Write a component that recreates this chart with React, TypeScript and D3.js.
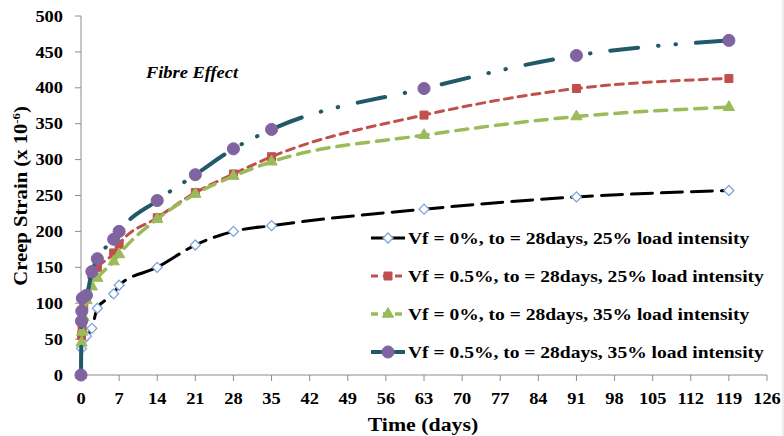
import React from "react";
import * as d3 from "d3";

const xTicks = [0, 7, 14, 21, 28, 35, 42, 49, 56, 63, 70, 77, 84, 91, 98, 105, 112, 119, 126];
const yTicks = [0, 50, 100, 150, 200, 250, 300, 350, 400, 450, 500];

const seriesNames = [
  "Vf = 0%, to = 28days, 25% load intensity",
  "Vf = 0.5%, to = 28days, 25% load intensity",
  "Vf = 0%, to = 28days, 35% load intensity",
  "Vf = 0.5%, to = 28days, 35% load intensity",
];

const timeA = [0, 0.1, 0.5, 1, 2, 3, 6, 7, 14, 21, 28, 35, 63, 91, 119];
const strainA = [0, 37, 50, 54, 65, 93, 113, 125, 150, 181, 200, 208, 231, 248, 257];

const timeB = [0, 0.1, 0.2, 0.5, 1, 2, 3, 6, 7, 14, 21, 28, 35, 63, 91, 119];
const strainB = [0, 55, 65, 95, 107, 140, 150, 170, 182, 219, 254, 280, 304, 362, 399, 413];

const timeC = [0, 0.1, 0.2, 0.5, 1, 2, 3, 6, 7, 14, 21, 28, 35, 63, 91, 119];
const strainC = [0, 45, 60, 80, 104, 123, 135, 158, 168, 217, 252, 277, 297, 334, 360, 373];

const timeD = [0, 0.1, 0.15, 0.25, 1, 2, 3, 6, 7, 14, 21, 28, 35, 63, 91, 119];
const strainD = [0, 75, 89, 107, 111, 144, 162, 189, 200, 243, 279, 315, 342, 399, 445, 466];

const FONT = "'Liberation Serif', 'Times New Roman', serif";
const SX = 1.15;

type Style = { stroke: string; width: number; dash: string; marker: string; mFill: string; mStroke: string; size: number };
const styles: Style[] = [
  { stroke: "#000000", width: 3, dash: "21,9", marker: "diamond", mFill: "#ffffff", mStroke: "#7fa6d8", size: 50 },
  { stroke: "#c0504d", width: 3, dash: "8,6", marker: "square", mFill: "#c0504d", mStroke: "#c0504d", size: 64 },
  { stroke: "#9bbb59", width: 3.5, dash: "12,8", marker: "triangle", mFill: "#9bbb59", mStroke: "#9bbb59", size: 55 },
  { stroke: "#215968", width: 4, dash: "28,20,0.5,17,0.5,20", marker: "circle", mFill: "#8064a2", mStroke: "#8064a2", size: 115 },
];

const symbolFor = (m: string) =>
  m === "diamond" || m === "square" ? d3.symbolSquare : m === "triangle" ? d3.symbolTriangle : d3.symbolCircle;

function T(props: { x: number; y: number; size: number; anchor?: string; italic?: boolean; dy?: string; rotate?: number; children: React.ReactNode }) {
  const { x, y, size, anchor = "start", italic, dy, rotate = 0, children } = props;
  return (
    <text
      transform={`translate(${x},${y}) rotate(${rotate}) scale(${SX},1)`}
      dy={dy}
      textAnchor={anchor}
      fontSize={size}
      fontWeight="bold"
      fontStyle={italic ? "italic" : "normal"}
      fill="#000"
    >
      {children}
    </text>
  );
}

export default function App() {
  const W = 784, H = 436;
  const x = d3.scaleLinear().domain([0, 126]).range([81, 767]);
  const y = d3.scaleLinear().domain([0, 500]).range([375, 16]);

  const data = [
    timeA.map((t, i) => [t, strainA[i]]),
    timeB.map((t, i) => [t, strainB[i]]),
    timeC.map((t, i) => [t, strainC[i]]),
    timeD.map((t, i) => [t, strainD[i]]),
  ] as [number, number][][];

  const line = d3
    .line<[number, number]>()
    .x((d) => x(d[0]))
    .y((d) => y(d[1]))
    .curve(d3.curveMonotoneX);

  const legendX0 = 371, legendX1 = 405, legendTextX = 408;
  const legendY = [238, 276, 314, 352];

  const marker = (s: Style, cx: number, cy: number, key: any) => {
    const sym = d3.symbol().type(symbolFor(s.marker)).size(s.size);
    return (
      <path
        key={key}
        d={sym() || ""}
        transform={`translate(${cx},${cy})${s.marker === "diamond" ? " rotate(45)" : ""}`}
        fill={s.mFill}
        stroke={s.mStroke}
        strokeWidth={s.marker === "diamond" ? 1.3 : 1}
      />
    );
  };

  return (
    <svg width={W} height={H} style={{ position: "absolute", left: 0, top: 0, background: "#fff" }} fontFamily={FONT}>
      <rect x={0} y={0} width={W} height={H} fill="#fff" />
      {/* axes */}
      <line x1={x(0)} x2={x(0)} y1={y(500)} y2={y(0)} stroke="#8c8c8c" strokeWidth={1} />
      <line x1={x(0)} x2={x(126)} y1={y(0)} y2={y(0)} stroke="#8c8c8c" strokeWidth={1} />
      {yTicks.map((v) => (
        <g key={"y" + v}>
          <line x1={x(0) - 6} x2={x(0)} y1={y(v)} y2={y(v)} stroke="#8c8c8c" />
          <T x={x(0) - 18} y={y(v)} dy="0.35em" anchor="end" size={16}>
            {v}
          </T>
        </g>
      ))}
      {xTicks.map((v) => (
        <g key={"x" + v}>
          <line x1={x(v)} x2={x(v)} y1={y(0)} y2={y(0) + 6} stroke="#8c8c8c" />
          <T x={x(v)} y={y(0) + 29} anchor="middle" size={16}>
            {v}
          </T>
        </g>
      ))}
      <T x={423} y={431} anchor="middle" size={19}>
        Time (days)
      </T>
      <T x={27} y={196} rotate={-90} anchor="middle" size={18}>
        Creep Strain (x 10
        <tspan dy={-7} fontSize={11}>-6</tspan>
        <tspan dy={7}>)</tspan>
      </T>
      <T x={192} y={78} anchor="middle" size={16} italic>
        Fibre Effect
      </T>

      {/* series */}
      {data.map((d, i) => {
        const s = styles[i];
        return (
          <g key={"s" + i}>
            <path d={line(d) || ""} fill="none" stroke={s.stroke} strokeWidth={s.width} strokeDasharray={s.dash} strokeLinecap="round" />
            {d.map((p, j) => marker(s, x(p[0]), y(p[1]), j))}
          </g>
        );
      })}

      {/* legend */}
      {seriesNames.map((name, i) => {
        const s = styles[i];
        const ly = legendY[i];
        return (
          <g key={"l" + i}>
            <line x1={legendX0} x2={legendX1} y1={ly} y2={ly} stroke={s.stroke} strokeWidth={s.width} strokeDasharray={i === 0 || i === 3 ? "" : "7,5"} />
            {marker(s, (legendX0 + legendX1) / 2, ly, "m")}
            <T x={legendTextX} y={ly} dy="0.35em" size={17}>
              {name}
            </T>
          </g>
        );
      })}
      <line x1={783} x2={783} y1={0} y2={H} stroke="#d9d9d9" />
    </svg>
  );
}
